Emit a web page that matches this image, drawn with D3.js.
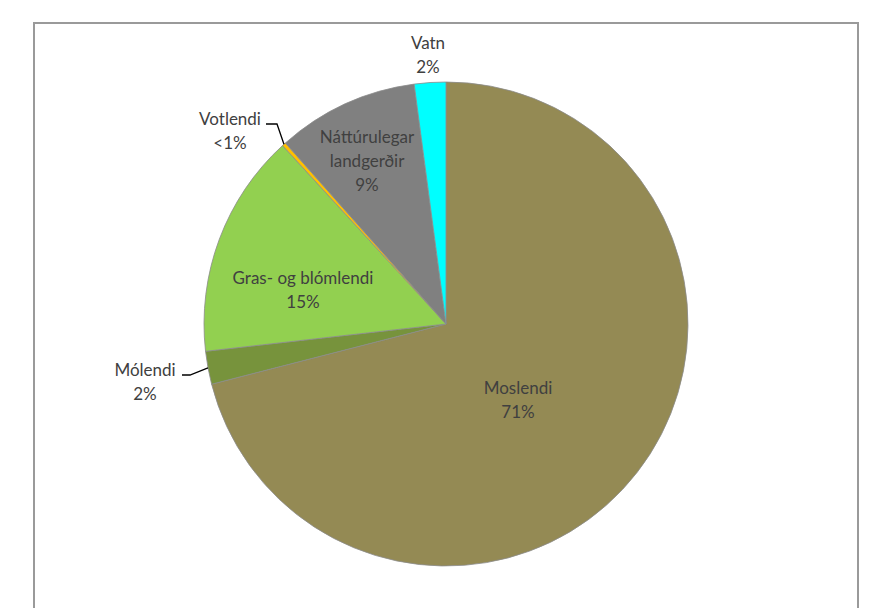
<!DOCTYPE html>
<html>
<head>
<meta charset="utf-8">
<script src="https://cdn.jsdelivr.net/npm/d3@7"></script>
<style>
  body { margin: 0; background: #fff; }
  text { font-family: Lato, "Open Sans", sans-serif; fill: #404040; }
</style>
</head>
<body>
<div class="canvas"></div>
<script>
// Data (clockwise from 12 o'clock)
const categories = ["Moslendi", "Mólendi", "Gras- og blómlendi", "Votlendi", "Náttúrulegar landgerðir", "Vatn"];
const shares = [71.0, 2.2, 15.0, 0.25, 9.45, 2.1];
const shareLabels = ["71%", "2%", "15%", "<1%", "9%", "2%"];
const sliceColours = ["#948a54", "#77933c", "#92d050", "#ffc000", "#808080", "#00ffff"];

const dims = { width: 889, height: 608, radius: 242 };
const cent = { x: 446, y: 324 };

const data = categories.map((name, i) => ({ name, value: shares[i], label: shareLabels[i] }));

const svg = d3
  .select(".canvas")
  .append("svg")
  .attr("width", dims.width)
  .attr("height", dims.height);

// chart frame
svg
  .append("rect")
  .attr("x", 34)
  .attr("y", 23)
  .attr("width", 824)
  .attr("height", 620)
  .attr("fill", "none")
  .attr("stroke", "#9a9a9a")
  .attr("stroke-width", 2);

const graph = svg
  .append("g")
  .attr("transform", `translate(${cent.x}, ${cent.y})`);

const pie = d3
  .pie()
  .sort(null)
  .value((d) => d.value);

const arcPath = d3.arc().innerRadius(0).outerRadius(dims.radius);
const edgeArc = d3.arc().innerRadius(dims.radius).outerRadius(dims.radius);

const colour = d3.scaleOrdinal().domain(categories).range(sliceColours);

const arcs = pie(data);

graph
  .selectAll("path.arc")
  .data(arcs)
  .enter()
  .append("path")
  .attr("class", "arc")
  .attr("d", arcPath)
  .attr("fill", (d) => colour(d.data.name))
  .attr("stroke", "#8c8c8c")
  .attr("stroke-width", 0.8);

// label layout (offsets from pie centre); multi-line names split where Excel wrapped them
const labelLayout = {
  "Moslendi": { x: 72, y: 70, lines: ["Moslendi"] },
  "Mólendi": { x: -301, y: 52, lines: ["Mólendi"], leader: { elbow: [-256, 51], end: [-264, 51] } },
  "Gras- og blómlendi": { x: -143, y: -40, lines: ["Gras- og blómlendi"] },
  "Votlendi": { x: -216, y: -199, lines: ["Votlendi"], leader: { elbow: [-169, -200], end: [-180, -200] } },
  "Náttúrulegar landgerðir": { x: -79, y: -181, lines: ["Náttúrulegar", "landgerðir"] },
  "Vatn": { x: -18, y: -275, lines: ["Vatn"] }
};
const lineH = 24;

const labels = graph
  .selectAll("g.label")
  .data(arcs)
  .enter()
  .append("g")
  .attr("class", "label")
  .attr("transform", (d) => {
    const l = labelLayout[d.data.name];
    return `translate(${l.x}, ${l.y})`;
  });

labels
  .append("text")
  .attr("text-anchor", "middle")
  .attr("font-size", 17)
  .selectAll("tspan")
  .data((d) => labelLayout[d.data.name].lines.concat([d.data.label]))
  .enter()
  .append("tspan")
  .attr("x", 0)
  .attr("y", (t, i) => i * lineH)
  .text((t) => t);

// leader lines for the two thin slices
graph
  .selectAll("path.leader")
  .data(arcs.filter((d) => labelLayout[d.data.name].leader))
  .enter()
  .append("path")
  .attr("class", "leader")
  .attr("fill", "none")
  .attr("stroke", "#000")
  .attr("stroke-width", 1.3)
  .attr("d", (d) => {
    const p = edgeArc.centroid(d);
    const l = labelLayout[d.data.name].leader;
    return d3.line()([p, l.elbow, l.end]);
  });
</script>
</body>
</html>
